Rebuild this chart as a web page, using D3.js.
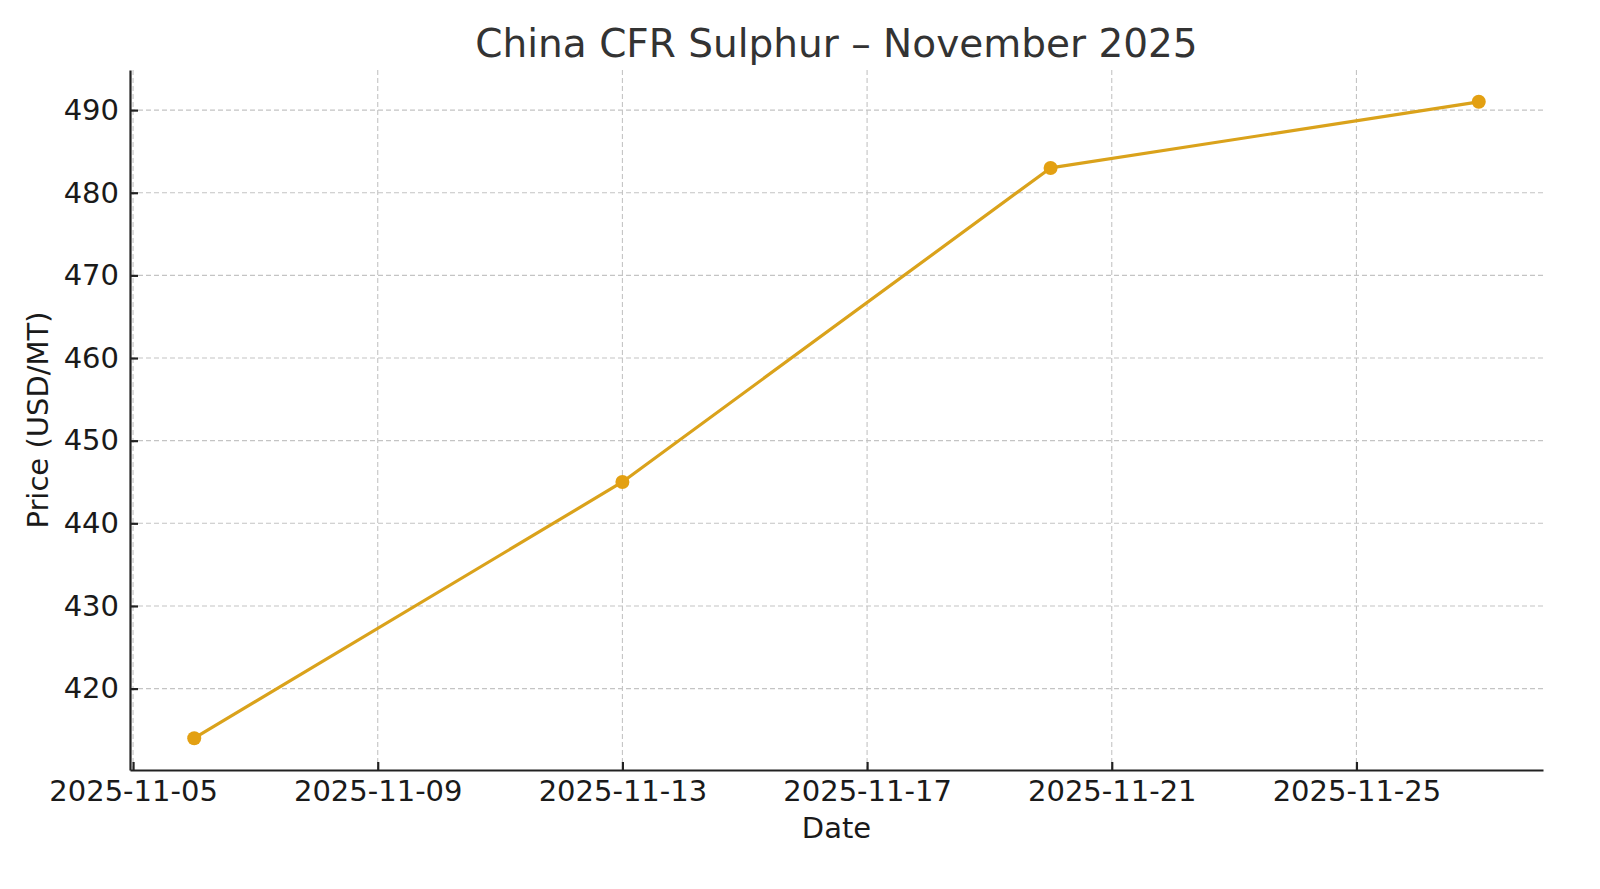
<!DOCTYPE html>
<html>
<head>
<meta charset="utf-8">
<script src="https://cdn.jsdelivr.net/npm/d3@7"></script>
<style>
  body { margin: 0; background: #fff; }
  svg { display: block; font-family: "DejaVu Sans", sans-serif; }
</style>
</head>
<body>
<svg id="chart"></svg>
<script>
// Weekly assessments, November 2025
const dates = ["2025-11-06", "2025-11-13", "2025-11-20", "2025-11-27"]
const prices = [414, 445, 483, 491]
const xTicks = ["2025-11-05", "2025-11-09", "2025-11-13", "2025-11-17", "2025-11-21", "2025-11-25"]
const yTicks = [420, 430, 440, 450, 460, 470, 480, 490]

const width = 1600
const height = 889
const margin = { top: 70, right: 57, bottom: 119, left: 130 }
const color = "#DAA21B"

const parse = d3.utcParse("%Y-%m-%d")
const data = dates.map((d, i) => ({ date: parse(d), price: prices[i] }))

const svg = d3.select("#chart")
  .attr("width", width)
  .attr("height", height)

// matplotlib-like 5% padding around the data
const [d0, d1] = d3.extent(data, d => d.date)
const xPad = (d1 - d0) * 0.05
const x = d3.scaleUtc()
  .domain([new Date(+d0 - xPad), new Date(+d1 + xPad)])
  .range([margin.left, width - margin.right])

const [p0, p1] = d3.extent(prices)
const yPad = (p1 - p0) * 0.05
const y = d3.scaleLinear()
  .domain([p0 - yPad, p1 + yPad])
  .range([height - margin.bottom, margin.top])

// Grid
const grid = svg.append("g")
  .attr("stroke", "#c4c4c4")
  .attr("stroke-width", 1.1)
  .attr("stroke-dasharray", "5,3")

grid.selectAll(".gx")
  .data(xTicks.map(parse))
  .join("line")
    .attr("x1", d => x(d)).attr("x2", d => x(d))
    .attr("y1", margin.top).attr("y2", height - margin.bottom)

grid.selectAll(".gy")
  .data(yTicks)
  .join("line")
    .attr("x1", margin.left).attr("x2", width - margin.right)
    .attr("y1", d => y(d)).attr("y2", d => y(d))

// Line and markers
svg.append("path")
  .datum(data)
  .attr("fill", "none")
  .attr("stroke", color)
  .attr("stroke-width", 3.2)
  .attr("stroke-linejoin", "round")
  .attr("d", d3.line().x(d => x(d.date)).y(d => y(d.price)))

svg.append("g")
  .selectAll("circle")
  .data(data)
  .join("circle")
    .attr("cx", d => x(d.date))
    .attr("cy", d => y(d.price))
    .attr("r", 7)
    .attr("fill", "#E3A012")

// Axes, ticks pointing inward
const styleAxis = g => {
  g.select(".domain").attr("stroke", "#222").attr("stroke-width", 2.2)
  g.selectAll(".tick line").attr("stroke", "#222").attr("stroke-width", 2.2)
  g.selectAll(".tick text")
    .attr("fill", "#1a1a1a")
    .attr("font-size", 29)
    .attr("font-family", "DejaVu Sans")
}

svg.append("g")
  .attr("transform", `translate(0, ${height - margin.bottom})`)
  .call(d3.axisBottom(x)
    .tickValues(xTicks.map(parse))
    .tickFormat(d3.utcFormat("%Y-%m-%d"))
    .tickSizeInner(-8)
    .tickSizeOuter(0)
    .tickPadding(10))
  .call(styleAxis)

svg.append("g")
  .attr("transform", `translate(${margin.left}, 0)`)
  .call(d3.axisLeft(y)
    .tickValues(yTicks)
    .tickSizeInner(-8)
    .tickSizeOuter(0)
    .tickPadding(11))
  .call(styleAxis)

// Titles
svg.append("text")
  .attr("x", (margin.left + width - margin.right) / 2)
  .attr("y", 57)
  .attr("text-anchor", "middle")
  .attr("font-size", 39)
  .attr("fill", "#333")
  .text("China CFR Sulphur – November 2025")

svg.append("text")
  .attr("x", (margin.left + width - margin.right) / 2)
  .attr("y", 838)
  .attr("text-anchor", "middle")
  .attr("font-size", 29)
  .attr("fill", "#1a1a1a")
  .text("Date")

svg.append("text")
  .attr("transform", `translate(48, ${(margin.top + height - margin.bottom) / 2}) rotate(-90)`)
  .attr("text-anchor", "middle")
  .attr("font-size", 29)
  .attr("fill", "#1a1a1a")
  .text("Price (USD/MT)")
</script>
</body>
</html>
